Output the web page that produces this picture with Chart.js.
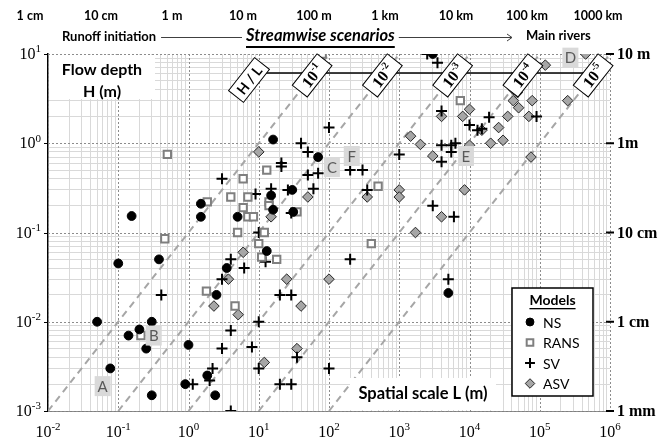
<!DOCTYPE html>
<html>
<head>
<meta charset="utf-8">
<script src="https://cdn.jsdelivr.net/npm/chart.js@4/dist/chart.umd.min.js"></script>
<style>
  html, body { margin: 0; padding: 0; background: #fff; }
  #wrap { position: relative; width: 667px; height: 441px; }
</style>
</head>
<body>
<div id="wrap"><canvas id="c" width="667" height="441"></canvas></div>
<script>
// 유동 깊이 H 대 공간 규모 L — 모델별 산점도 (log-log)
// 값은 그림에서 읽은 근사치 [L (m), H (m)]

const NS = [
  [0.155, 0.153], [1.5, 0.21], [1.5, 0.15], [0.1, 0.045], [0.38, 0.05],
  [0.05, 0.01], [0.3, 0.01], [0.2, 0.0082], [0.14, 0.007], [0.25, 0.005],
  [1.0, 0.0055], [0.077, 0.003], [0.3, 0.0015], [0.9, 0.002], [2.5, 0.02],
  [1.85, 0.0025], [2.4, 0.0015], [16, 1.1], [70, 0.7], [15, 0.26],
  [30, 0.3], [5, 0.15], [16, 0.18], [31, 0.17], [13, 0.062], [3.5, 0.04],
  [3000, 10], [5000, 0.021],
];
const RANS = [
  [0.5, 0.75], [0.46, 0.085], [0.21, 0.007], [1.85, 0.22], [1.8, 0.022],
  [4.6, 0.015], [80, 10], [13, 0.5], [6, 0.4], [4, 0.25], [7, 0.25],
  [6, 0.19], [7, 0.15], [8.4, 0.15], [14, 0.22], [14, 0.2], [35, 0.17],
  [5, 0.1], [12, 0.1], [10, 0.075], [11, 0.053], [18, 0.05], [500, 0.33],
  [400, 0.075], [7400, 3],
];
const SV = [
  [0.41, 0.02], [1.15, 0.002], [10, 0.01], [4, 0.008], [3, 0.005],
  [8, 0.0052], [35, 0.004], [10, 0.003], [2.2, 0.003], [2, 0.0022],
  [4, 0.001], [20, 0.002], [29, 0.002], [20, 0.02], [29, 0.02],
  [100, 0.003], [21, 0.6], [21, 0.55], [3, 0.4], [50, 0.44], [70, 0.46],
  [9, 0.27], [15, 0.31], [26, 0.3], [60, 0.31], [29, 0.165], [10, 0.1],
  [12.5, 0.047], [4, 0.05], [6.2, 0.04], [3, 0.03], [40, 1.0], [50, 0.8],
  [100, 1.5], [200, 0.5], [300, 0.5], [1000, 0.75], [2500, 10], [3500, 8],
  [4000, 2.3], [10000, 1.6], [13000, 1.4], [15000, 1.45], [19000, 1.95],
  [4000, 0.95], [5500, 0.95], [6300, 1.0], [5500, 0.8], [4000, 0.62],
  [350, 0.3], [3000, 0.2], [6000, 0.15], [200, 0.05], [5000, 0.03],
  [90000, 2],
];
const ASV = [
  [2.3, 0.015], [5.1, 0.012], [35, 0.005], [12, 0.0035], [40, 0.015],
  [50, 0.25], [15, 0.15], [6, 0.06], [3.7, 0.03], [25, 0.03], [100, 0.03],
  [10, 0.8], [1450, 1.2], [2000, 0.97], [4000, 2], [10000, 2.4], [8000, 2],
  [3000, 0.72], [10000, 0.95], [350, 0.25], [1000, 0.3], [1000, 0.25],
  [8500, 0.3], [4000, 0.15], [1700, 0.1], [450000, 10], [120000, 7.5],
  [42000, 4], [48000, 3.7], [42000, 3], [78000, 3], [50000, 2.5],
  [35000, 2], [70000, 2], [250000, 3], [26000, 1.5], [15000, 1.4],
  [20000, 1.0], [30000, 1.08], [75000, 0.7],
];

// H/L 대각선
const HL_RATIOS = [1e-1, 1e-2, 1e-3, 1e-4, 1e-5];
const HL_EXP = ["-1", "-2", "-3", "-4", "-5"];

// 축 눈금 (10의 거듭제곱 지수)
const X_DECADES = [-2, -1, 0, 1, 2, 3, 4, 5, 6];
const Y_DECADES = [-3, -2, -1, 0, 1];
const TOP_SCALE = ["1 cm", "10 cm", "1 m", "10 m", "100 m", "1 km", "10 km", "100 km", "1000 km"];
const RIGHT_SCALE = ["1 mm", "1 cm", "10 cm", "1m", "10 m"];

// 사례 표시 (A~F)
const CASES = [["A", 0.06, 0.0019], ["B", 0.32, 0.007], ["C", 110, 0.54],
  ["D", 273000, 9.1], ["E", 8900, 0.72], ["F", 211, 0.72]];

const SERIES = [
  { label: "NS", pts: NS, style: "circle", r: 4.4, bg: "#000", bd: "#000", bw: 1 },
  { label: "RANS", pts: RANS, style: "rect", r: 5.2, bg: "#fff", bd: "#7f7f7f", bw: 2 },
  { label: "SV", pts: SV, style: "cross", r: 5.5, bg: "#000", bd: "#000", bw: 2 },
  { label: "ASV", pts: ASV, style: "rectRot", r: 5.3, bg: "#a6a6a6", bd: "#262626", bw: 1 },
];

const SANS = "Lato, 'Noto Sans', sans-serif";
const SERIF = "'Liberation Serif', 'DejaVu Serif', serif";

function isDecade(v) {
  const l = Math.log10(v);
  return Math.abs(l - Math.round(l)) < 1e-9;
}

function logTicks(minExp, maxExp) {
  const out = [];
  for (let e = minExp; e <= maxExp; e++) {
    for (let m = 1; m <= 9; m++) {
      if (e === maxExp && m > 1) break;
      out.push({ value: m * Math.pow(10, e) });
    }
  }
  return out;
}

function drawPow(ctx, cx, cy, exp, size, align) {
  ctx.font = size + "px " + SERIF;
  const wb = ctx.measureText("10").width;
  ctx.font = Math.round(size * 0.68) + "px " + SERIF;
  const we = ctx.measureText(exp).width;
  const x0 = align === "right" ? cx - wb - we : cx - (wb + we) / 2;
  ctx.fillStyle = "#000";
  ctx.textAlign = "left";
  ctx.textBaseline = "alphabetic";
  ctx.font = size + "px " + SERIF;
  ctx.fillText("10", x0, cy);
  ctx.font = Math.round(size * 0.68) + "px " + SERIF;
  ctx.fillText(exp, x0 + wb, cy - size * 0.42);
}

const decor = {
  id: "decor",
  beforeDraw(chart) {
    const ctx = chart.ctx;
    ctx.save();
    ctx.fillStyle = "#fff";
    ctx.fillRect(0, 0, chart.width, chart.height);
    ctx.restore();
  },
  beforeDatasetsDraw(chart) {
    const { ctx, chartArea: a, scales: { x, y } } = chart;
    ctx.save();
    // 주 눈금 점선
    ctx.strokeStyle = "#8c8c8c";
    ctx.lineWidth = 1;
    ctx.setLineDash([2, 2]);
    X_DECADES.forEach((e) => {
      const px = Math.round(x.getPixelForValue(Math.pow(10, e))) + 0.5;
      ctx.beginPath(); ctx.moveTo(px, a.top); ctx.lineTo(px, a.bottom); ctx.stroke();
    });
    Y_DECADES.forEach((e) => {
      const py = Math.round(y.getPixelForValue(Math.pow(10, e))) + 0.5;
      ctx.beginPath(); ctx.moveTo(a.left, py); ctx.lineTo(a.right, py); ctx.stroke();
    });
    ctx.setLineDash([]);
    // Flow depth 박스
    ctx.fillStyle = "#fff";
    ctx.fillRect(a.left + 1, a.top + 1, 106, 44);
    ctx.fillStyle = "#000";
    ctx.font = "bold 16px " + SANS;
    ctx.textAlign = "center";
    ctx.textBaseline = "middle";
    ctx.fillText("Flow depth", 102, 70);
    ctx.fillText("H (m)", 102, 92);
    ctx.restore();
  },
  afterDatasetsDraw(chart) {
    const { ctx, chartArea: a, scales: { x, y } } = chart;
    ctx.save();
    const ang = Math.atan2(
      y.getPixelForValue(1) - y.getPixelForValue(10),
      x.getPixelForValue(10) - x.getPixelForValue(1));

    // H/L 라벨 연결선
    const rowY = 73;
    const yVal = Math.pow(10, 0.76);
    const lblPts = HL_RATIOS.map((r) => ({
      px: x.getPixelForValue(yVal / r), py: y.getPixelForValue(yVal) }));
    ctx.strokeStyle = "#000";
    ctx.lineWidth = 1.5;
    ctx.beginPath();
    ctx.moveTo(255, rowY);
    ctx.lineTo(lblPts[lblPts.length - 1].px, rowY);
    ctx.stroke();

    function tag(cx, cy, draw, w) {
      ctx.save();
      ctx.translate(cx, cy);
      ctx.rotate(-ang);
      ctx.fillStyle = "#fff";
      ctx.strokeStyle = "#000";
      ctx.lineWidth = 1;
      ctx.fillRect(-w / 2, -9.5, w, 19);
      ctx.strokeRect(-w / 2, -9.5, w, 19);
      draw();
      ctx.restore();
    }
    tag(249, 80, () => {
      ctx.fillStyle = "#000";
      ctx.font = "bold 14px " + SANS;
      ctx.textAlign = "center";
      ctx.textBaseline = "middle";
      ctx.fillText("H / L", 0, 1);
    }, 42);
    lblPts.forEach((p, i) => {
      tag(p.px, p.py, () => {
        ctx.fillStyle = "#000";
        ctx.textAlign = "left";
        ctx.textBaseline = "alphabetic";
        ctx.font = "bold 16px " + SERIF;
        const wb = ctx.measureText("10").width;
        ctx.font = "bold 10px " + SERIF;
        const we = ctx.measureText(HL_EXP[i]).width;
        const x0 = -(wb + we) / 2;
        ctx.font = "bold 16px " + SERIF;
        ctx.fillText("10", x0, 6);
        ctx.font = "bold 10px " + SERIF;
        ctx.fillText(HL_EXP[i], x0 + wb, -1);
      }, 40);
    });

    // 사례 라벨
    CASES.forEach(([t, lx, ly]) => {
      const px = x.getPixelForValue(lx), py = y.getPixelForValue(ly);
      ctx.fillStyle = "#d9d9d9";
      ctx.fillRect(px - 8, py - 10, 16, 20);
      ctx.fillStyle = "#595959";
      ctx.font = "15px " + SANS;
      ctx.textAlign = "center";
      ctx.textBaseline = "middle";
      ctx.fillText(t, px, py + 1);
    });

    // Spatial scale 박스
    ctx.fillStyle = "#fff";
    ctx.fillRect(350, 378, 146, a.bottom - 378 - 1);
    ctx.fillStyle = "#000";
    ctx.font = "bold 16.5px " + SANS;
    ctx.textAlign = "center";
    ctx.textBaseline = "middle";
    ctx.fillText("Spatial scale L (m)", 423, 394);

    // 범례
    const lx = 512, ly = 288, lw = 81, lh = 108;
    ctx.fillStyle = "#fff";
    ctx.fillRect(lx, ly, lw, lh);
    ctx.strokeStyle = "#000";
    ctx.lineWidth = 1.5;
    ctx.strokeRect(lx, ly, lw, lh);
    ctx.fillStyle = "#000";
    ctx.font = "bold 14px " + SANS;
    ctx.textAlign = "center";
    ctx.textBaseline = "middle";
    ctx.fillText("Models", lx + lw / 2, 300);
    const mw = ctx.measureText("Models").width;
    ctx.fillRect(lx + lw / 2 - mw / 2, 308, mw, 1.3);
    SERIES.forEach((s, i) => {
      const yy = 322 + i * 20.5;
      const opts = { pointStyle: s.style, radius: s.r * 0.9, borderWidth: s.bw, rotation: 0 };
      ctx.fillStyle = s.bg;
      ctx.strokeStyle = s.bd;
      ctx.lineWidth = s.bw;
      Chart.helpers.drawPoint(ctx, opts, 530, yy);
      ctx.fillStyle = "#000";
      ctx.font = "14px " + SANS;
      ctx.textAlign = "left";
      ctx.fillText(s.label, 543, yy + 1);
    });
    ctx.restore();
  },
  afterDraw(chart) {
    const { ctx, chartArea: a, scales: { x, y } } = chart;
    ctx.save();
    // 축 눈금 라벨
    X_DECADES.forEach((e) => {
      drawPow(ctx, x.getPixelForValue(Math.pow(10, e)), 437, String(e), 16, "center");
    });
    Y_DECADES.forEach((e) => {
      drawPow(ctx, 41, y.getPixelForValue(Math.pow(10, e)) + 5, String(e), 16, "right");
    });
    // 왼쪽 작은 눈금
    ctx.strokeStyle = "#000";
    ctx.lineWidth = 1;
    Y_DECADES.forEach((e) => {
      const py = Math.round(y.getPixelForValue(Math.pow(10, e))) + 0.5;
      ctx.beginPath(); ctx.moveTo(a.left - 4, py); ctx.lineTo(a.left, py); ctx.stroke();
    });
    // 오른쪽 물리 단위
    Y_DECADES.forEach((e, i) => {
      const py = y.getPixelForValue(Math.pow(10, e));
      ctx.fillStyle = "#000";
      ctx.fillRect(a.right - 4, py - 1, 8, 2);
      ctx.font = "bold 16px " + SERIF;
      ctx.textAlign = "left";
      ctx.textBaseline = "middle";
      ctx.fillText(RIGHT_SCALE[i], a.right + 7, py + 1);
    });
    // 위쪽 길이 단위 (축 눈금과 약간 어긋나게 배치됨)
    ctx.font = "bold 12.5px " + SANS;
    ctx.textAlign = "center";
    ctx.textBaseline = "middle";
    TOP_SCALE.forEach((t, i) => {
      ctx.fillText(t, 30 + i * 71, 16);
    });
    // 흐름 방향 설명
    ctx.font = "bold 13px " + SANS;
    ctx.textAlign = "left";
    ctx.fillText("Runoff initiation", 62, 37);
    const rw = ctx.measureText("Runoff initiation").width;
    ctx.strokeStyle = "#404040";
    ctx.lineWidth = 1;
    ctx.beginPath(); ctx.moveTo(62 + rw + 5, 37.5); ctx.lineTo(242, 37.5); ctx.stroke();
    ctx.font = "italic bold 16.5px " + SANS;
    ctx.fillText("Streamwise scenarios", 246, 36);
    const sw = ctx.measureText("Streamwise scenarios").width;
    ctx.fillRect(246, 46, sw, 2);
    ctx.beginPath(); ctx.moveTo(246 + sw + 4, 37.5); ctx.lineTo(512, 37.5); ctx.stroke();
    ctx.beginPath(); ctx.moveTo(507, 34); ctx.lineTo(512, 37.5); ctx.lineTo(507, 41); ctx.stroke();
    ctx.font = "bold 13px " + SANS;
    ctx.fillText("Main rivers", 526, 36);
    ctx.restore();
  },
};

const diagSets = HL_RATIOS.map((r) => ({
  type: "line",
  data: [{ x: 1e-3 / r, y: 1e-3 }, { x: 10 / r, y: 10 }],
  borderColor: "#a6a6a6",
  borderWidth: 2,
  borderDash: [7, 5],
  pointRadius: 0,
  fill: false,
  order: 10,
}));

const pointSets = SERIES.map((s, i) => ({
  type: "scatter",
  label: s.label,
  data: s.pts.map(([lx, ly]) => ({ x: lx, y: ly })),
  pointStyle: s.style,
  pointRadius: s.r,
  pointHoverRadius: s.r,
  backgroundColor: s.bg,
  borderColor: s.bd,
  borderWidth: s.bw,
  order: i,
}));

const minorGrid = (ctx) => (ctx.tick && isDecade(ctx.tick.value)) ? "rgba(0,0,0,0)" : "#d9d9d9";

new Chart(document.getElementById("c"), {
  data: { datasets: [...diagSets, ...pointSets] },
  options: {
    responsive: false,
    devicePixelRatio: 1,
    animation: false,
    layout: { padding: { left: 48, right: 57, top: 54, bottom: 30 } },
    plugins: { legend: { display: false }, tooltip: { enabled: false } },
    scales: {
      x: {
        type: "logarithmic", min: 1e-2, max: 1e6,
        afterBuildTicks: (sc) => { sc.ticks = logTicks(-2, 6); },
        ticks: { display: false },
        grid: { color: minorGrid, lineWidth: 1, drawTicks: false },
        border: { display: true, color: "#7f7f7f", width: 1 },
      },
      y: {
        type: "logarithmic", min: 1e-3, max: 10,
        afterBuildTicks: (sc) => { sc.ticks = logTicks(-3, 1); },
        ticks: { display: false },
        grid: { color: minorGrid, lineWidth: 1, drawTicks: false },
        border: { display: true, color: "#000", width: 1.5 },
      },
    },
  },
  plugins: [decor],
});
</script>
</body>
</html>
